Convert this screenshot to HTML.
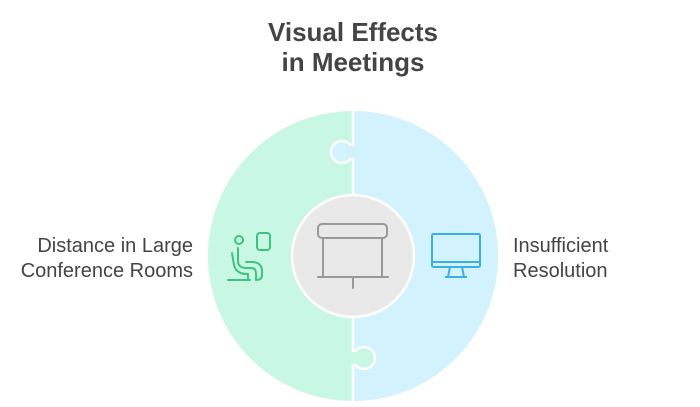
<!DOCTYPE html>
<html><head><style>
body{margin:0;background:#fff;}
svg{display:block;}
</style></head><body>
<svg width="700" height="407" viewBox="0 0 700 407" xmlns="http://www.w3.org/2000/svg">
<text x="353" y="41" text-anchor="middle" font-family="Liberation Sans, sans-serif" font-weight="bold" font-size="26" fill="#444">Visual Effects</text>
<text x="353" y="71" text-anchor="middle" font-family="Liberation Sans, sans-serif" font-weight="bold" font-size="26" fill="#444">in Meetings</text>
<circle cx="353" cy="256" r="145" fill="#c8f8e3"/>
<path d="M353,111 A145,145 0 0 1 353,401 Z" fill="#d2f2fd"/>
<line x1="353" y1="110" x2="353" y2="402" stroke="#fff" stroke-width="2.5"/>
<circle cx="342" cy="152" r="11" fill="#d2f2fd" stroke="#fff" stroke-width="2.5"/>
<rect x="349" y="146" width="7" height="12" fill="#d2f2fd"/>
<circle cx="364" cy="358" r="11" fill="#c8f8e3" stroke="#fff" stroke-width="2.5"/>
<rect x="350" y="352" width="7" height="12" fill="#c8f8e3"/>
<circle cx="353" cy="256" r="61" fill="#e9e9e9" stroke="#fff" stroke-width="2.5"/>
<g fill="none" stroke="#999" stroke-width="2" stroke-linecap="round">
<rect x="318" y="224" width="69" height="14" rx="4"/>
<path d="M323,238 V276 M382,238 V276 M318,277 H388 M353,277 V288"/>
</g>
<g fill="none" stroke="#3bb0e0" stroke-width="2">
<rect x="432" y="234" width="48" height="33" rx="1.5"/>
<path d="M432,262 H480 M450,267 L448,277 M462,267 L464,277 M445,277 H467"/>
</g>
<g fill="none" stroke="#3cc47e" stroke-width="2" stroke-linecap="round" stroke-linejoin="round">
<circle cx="239" cy="240" r="4"/>
<rect x="257" y="233" width="13" height="17" rx="3"/>
<path d="M228,280 H250 M238,248 L238,262 Q239,268 246,268 L252,268 Q256,268 256,274 L256,280 Q262,280 262,275 L262,270 Q261,262 252,262 L246,262 M232,253 L234,265 Q236,273 245,274 L248,274 L248,280"/>
</g>
<g font-family="Liberation Sans, sans-serif" font-size="20" fill="#444">
<text x="193" y="252" text-anchor="end">Distance in Large</text>
<text x="193" y="277" text-anchor="end">Conference Rooms</text>
<text x="513" y="252">Insufficient</text>
<text x="513" y="277">Resolution</text>
</g>
</svg>
</body></html>
